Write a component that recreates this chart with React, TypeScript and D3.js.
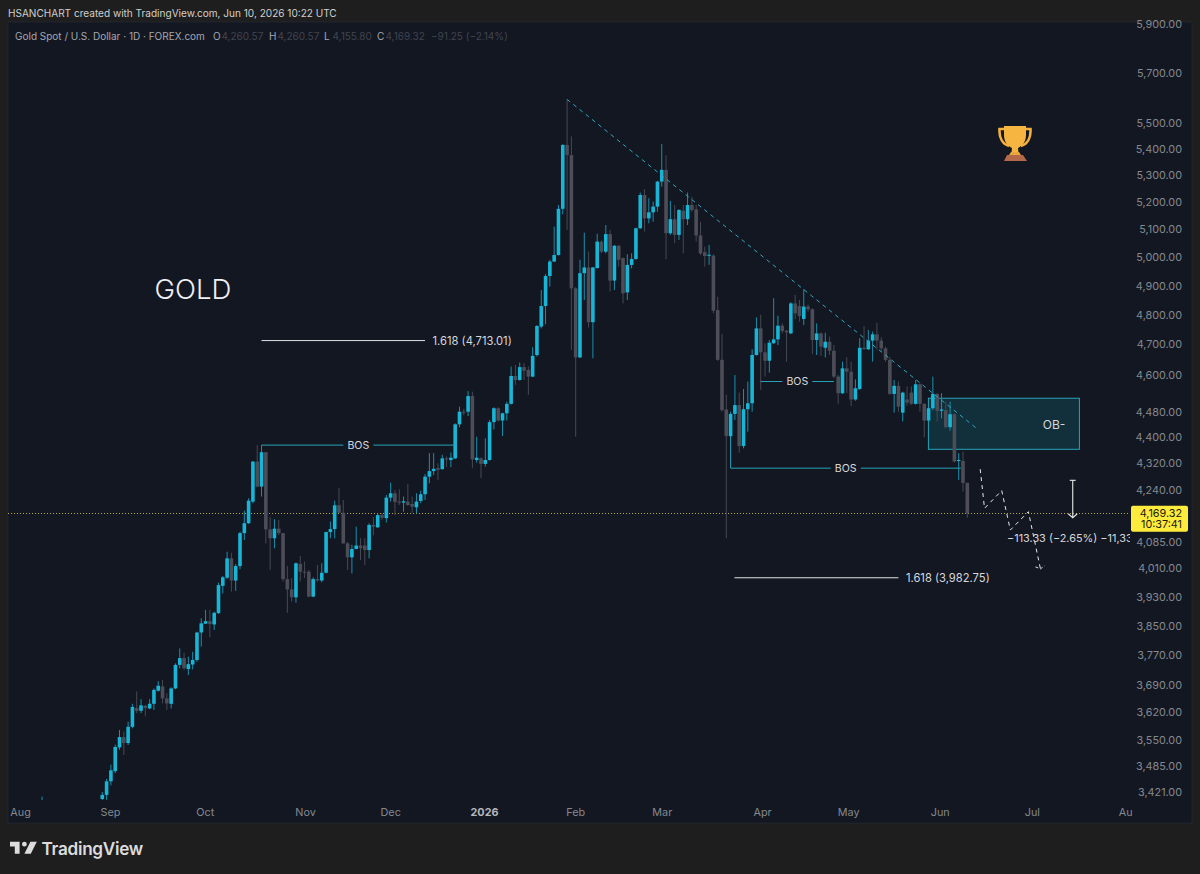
import * as d3 from "d3";
import React, { useEffect, useRef } from "react";

// daily bars, Sep 2025 - Jun 10 2026
const opens = [
  3404,3414,3447,3472,3531,3557,3542,3583,3631,3624,
  3637,3630,3642,3676,3687,3656,3642,3682,3744,3762,
  3733,3745,3757,3831,3855,3862,3853,3884,3960,3983,
  4038,3975,4016,4111,4140,4204,4325,4249,4354,4122,
  4096,4124,4111,3979,3950,3928,4022,4000,4000,3930,
  3979,3975,3997,4114,4123,4193,4171,4081,4041,4065,
  4075,4075,4062,4135,4128,4164,4155,4216,4229,4204,
  4201,4204,4197,4187,4206,4226,4279,4296,4305,4302,
  4335,4330,4335,4441,4481,4481,4531,4330,4335,4318,
  4330,4448,4492,4453,4476,4506,4596,4583,4625,4616,
  4594,4665,4760,4830,4934,4985,5008,5175,5415,5376,
  4891,4657,4944,4964,4775,4962,5056,5020,5083,4918,
  5041,4997,4877,4973,4994,5104,5226,5140,5162,5183,
  5276,5320,5086,5137,5080,5168,5137,5189,5173,5078,
  5018,5006,5006,4816,4649,4488,4404,4474,4502,4373,
  4489,4508,4665,4754,4674,4646,4704,4717,4763,4746,
  4737,4839,4830,4786,4828,4819,4715,4737,4689,4709,
  4679,4594,4540,4621,4610,4520,4554,4689,4684,4713,
  4734,4713,4687,4649,4538,4564,4478,4520,4542,4506,
  4569,4506,4453,4492,4538,4484,4486,4432,4473,4327,
  4327,4260.57,
];
const highs = [
  3421,3453,3488,3538,3575,3571,3596,3642,3674,3654,
  3639,3654,3682,3701,3704,3669,3685,3748,3788,3777,
  3766,3779,3833,3870,3893,3893,3888,3969,3988,4057,
  4054,4022,4115,4177,4214,4327,4376,4376,4354,4158,
  4152,4150,4111,4016,3982,4026,4045,4029,4005,3984,
  4019,4024,4115,4145,4207,4244,4209,4085,4077,4130,
  4096,4096,4140,4158,4169,4170,4224,4261,4239,4241,
  4219,4257,4219,4229,4237,4287,4351,4351,4320,4346,
  4341,4353,4444,4497,4490,4547,4545,4402,4338,4397,
  4455,4495,4495,4478,4513,4627,4632,4640,4638,4627,
  4691,4765,4885,4941,4991,5110,5189,5418,5593,5448,
  4895,4991,5088,5020,4966,5084,5060,5116,5098,5044,
  5044,5000,5011,5014,5106,5235,5248,5214,5202,5279,
  5418,5376,5204,5189,5173,5189,5235,5220,5189,5128,
  5038,5044,5010,4862,4735,4535,4481,4599,4542,4554,
  4578,4684,4791,4800,4704,4715,4857,4797,4771,4748,
  4843,4868,4851,4888,4835,4822,4771,4740,4739,4726,
  4698,4599,4643,4657,4643,4585,4721,4762,4749,4743,
  4773,4724,4693,4659,4583,4578,4545,4562,4562,4583,
  4572,4508,4497,4594,4540,4540,4513,4513,4475,4351,
  4356,4260.57,
];
const lows = [
  3402,3402,3437,3467,3525,3512,3537,3579,3618,3618,
  3610,3628,3626,3674,3643,3626,3630,3680,3735,3731,
  3717,3732,3752,3793,3854,3818,3838,3882,3939,3979,
  3944,3946,4007,4091,4138,4199,4247,4219,4081,4005,
  4067,4105,3972,3885,3916,3913,3972,3982,3928,3928,
  3972,3970,3995,4096,4096,4171,4081,4005,3995,4064,
  4033,4019,4038,4105,4126,4150,4142,4204,4164,4194,
  4174,4191,4171,4169,4199,4209,4259,4284,4269,4300,
  4308,4308,4333,4432,4470,4467,4305,4322,4274,4310,
  4328,4425,4450,4404,4453,4504,4567,4581,4583,4535,
  4592,4660,4754,4768,4897,4983,5006,5155,5098,4682,
  4402,4655,4851,4757,4654,4960,5014,5014,4880,4885,
  4967,4839,4851,4961,4991,5102,5092,5122,5128,5164,
  5257,4993,5080,5050,5062,5014,5116,5164,5056,5008,
  4967,4973,4805,4646,4481,4096,4398,4455,4353,4366,
  4418,4481,4663,4551,4594,4607,4702,4698,4737,4643,
  4735,4785,4777,4765,4810,4668,4665,4662,4657,4665,
  4589,4506,4538,4540,4499,4516,4551,4682,4682,4643,
  4682,4676,4643,4535,4478,4481,4450,4500,4503,4504,
  4481,4400,4450,4486,4450,4460,4429,4421,4323,4269,
  4234,4155.8,
];
const closes = [
  3414,3447,3474,3532,3557,3542,3583,3634,3624,3638,
  3631,3642,3678,3689,3656,3643,3682,3744,3762,3735,
  3746,3757,3831,3856,3862,3854,3885,3962,3984,4038,
  3975,4016,4111,4140,4207,4325,4249,4354,4122,4096,
  4124,4111,3979,3950,3928,4024,4000,3997,3930,3979,
  3975,3997,4114,4123,4193,4171,4081,4041,4065,4075,
  4067,4062,4135,4130,4164,4156,4216,4229,4203,4201,
  4205,4194,4189,4204,4226,4279,4296,4303,4300,4335,
  4332,4337,4441,4481,4478,4531,4332,4337,4318,4330,
  4448,4492,4453,4476,4506,4596,4583,4625,4613,4594,
  4662,4762,4830,4934,4985,5008,5175,5415,5376,4891,
  4657,4944,4964,4775,4964,5056,5020,5083,4918,5041,
  4991,4874,4973,4994,5104,5226,5140,5162,5183,5276,
  5320,5086,5137,5080,5171,5137,5189,5171,5078,5014,
  5004,5009,4814,4649,4486,4404,4474,4502,4373,4489,
  4508,4665,4754,4674,4646,4706,4717,4763,4745,4741,
  4839,4805,4796,4828,4819,4715,4737,4693,4709,4679,
  4594,4540,4621,4610,4520,4556,4689,4685,4713,4734,
  4713,4687,4649,4538,4564,4497,4542,4510,4506,4569,
  4506,4453,4492,4538,4484,4488,4432,4473,4325,4330,
  4260,4169.32,
];

const priceTicks = [
  5900,5700,5500,5400,5300,5200,5100,5000,4900,4800,4700,4600,4480,4400,4320,4240,
  4085,4010,3930,3850,3770,3690,3620,3550,3485,3421,
];
const monthLabels = ["Aug","Sep","Oct","Nov","Dec","2026","Feb","Mar","Apr","May","Jun","Jul","Aug"];
const monthBars = [-18.1,2.8,24.8,48.1,67.9,89.7,110.9,131,154.3,174.3,195.6,217,238.7];

// drawings, bar index + price
const lastClose = 4169.32;
const trendBars = [109, 204];
const trendPrices = [5593, 4430];
const bosBars = [[38, 83], [154, 171], [147, 200.5]];
const bosPrices = [4376, 4578, 4305];
const fibBars = [[38, 76], [147.9, 186]];
const fibPrices = [4713.01, 3982.75];
const fibLabels = ["1.618 (4,713.01)", "1.618 (3,982.75)"];
const obBars = [192.96, 228.05];
const obPrices = [4524, 4363];
const pathBars = [205, 206, 210, 212, 216.2, 219];
const pathPrices = [4302, 4184, 4237, 4120, 4174, 4008];
const measureBar = 226.5;
const measurePrices = [4268, 4156];

const UP = "#17b5d6";
const UP_WICK = "#1790ad";
const DOWN = "#4d4d58";
const DOWN_WICK = "#484852";
const PANE = "#131722";
const TEAL = "#27a3b8";
const FONT = "Inter, 'Noto Sans', sans-serif";

export default function App() {
  const svgRef = useRef<SVGSVGElement>(null);

  useEffect(() => {
    const svg = d3.select(svgRef.current);
    svg.selectAll("*").remove();

    const x = d3.scaleLinear().domain([1, 202]).range([102.3, 967.3]);
    const y = d3.scaleLog().domain([3421, 5500]).range([792, 123]);

    svg.append("rect").attr("width", 1200).attr("height", 874).attr("fill", "#1e1e1e");
    svg.append("rect").attr("x", 8).attr("y", 22).attr("width", 1184).attr("height", 801)
      .attr("fill", PANE).attr("stroke", "#2a2e39").attr("stroke-width", 0.6);

    svg.append("text").attr("x", 8).attr("y", 17).attr("font-size", 10.05).attr("fill", "#cfcfcf")
      .attr("font-family", FONT).text("HSANCHART created with TradingView.com, Jun 10, 2026 10:22 UTC");

    const defs = svg.append("defs");
    defs.append("clipPath").attr("id", "plot").append("rect")
      .attr("x", 8).attr("y", 23).attr("width", 1122).attr("height", 777);

    // price axis
    const yAxis = d3.axisRight(y).tickValues(priceTicks).tickSize(0).tickFormat((d: any) => d3.format(",.2f")(d));
    const yg = svg.append("g").attr("transform", "translate(1182,0)").call(yAxis as any);
    yg.select(".domain").remove();
    yg.selectAll("text").attr("x", 0).attr("text-anchor", "end").attr("fill", "#85898f")
      .attr("font-size", 10.8).attr("font-family", FONT);

    // time axis
    const xAxis = d3.axisBottom(x).tickValues(monthBars).tickSize(0).tickFormat((_d: any, i: number) => monthLabels[i]);
    const xg = svg.append("g").attr("transform", "translate(0,804)").call(xAxis as any);
    xg.select(".domain").remove();
    xg.selectAll("text").attr("y", 4).attr("fill", "#85898f").attr("font-size", 10.8).attr("font-family", FONT)
      .attr("font-weight", (_d: any, i: number) => (monthLabels[i] === "2026" ? 700 : 400))
      .style("fill", (_d: any, i: number) => (monthLabels[i] === "2026" ? "#b4b7be" : "#85898f"));
    // last label is cut off by the price scale in the screenshot
    xg.selectAll("g.tick").filter((_d: any, i: number) => i === monthLabels.length - 1).select("text").text("Au");

    const plot = svg.append("g").attr("clip-path", "url(#plot)");

    // order block sits behind the candles
    plot.append("rect")
      .attr("x", x(obBars[0])).attr("y", y(obPrices[0]))
      .attr("width", x(obBars[1]) - x(obBars[0])).attr("height", y(obPrices[1]) - y(obPrices[0]))
      .attr("fill", "#12303c").attr("stroke", TEAL).attr("stroke-width", 1);

    // last price line
    plot.append("line").attr("x1", 8).attr("x2", 1130).attr("y1", Math.round(y(lastClose)) + 0.5).attr("y2", Math.round(y(lastClose)) + 0.5)
      .attr("stroke", "#bda63a").attr("stroke-width", 1).attr("stroke-dasharray", "1 2");

    const idx = d3.range(opens.length);
    const isUp = (i: number) => closes[i] >= opens[i];

    plot.append("g").selectAll("line").data(idx).join("line")
      .attr("x1", (i) => x(i + 1)).attr("x2", (i) => x(i + 1))
      .attr("y1", (i) => y(highs[i])).attr("y2", (i) => y(lows[i]))
      .attr("stroke", (i) => (isUp(i) ? UP_WICK : DOWN_WICK)).attr("stroke-width", 1);

    plot.append("g").selectAll("rect").data(idx).join("rect")
      .attr("x", (i) => x(i + 1) - 1.8).attr("width", 3.6)
      .attr("y", (i) => y(Math.max(opens[i], closes[i])))
      .attr("height", (i) => Math.max(1, Math.abs(y(opens[i]) - y(closes[i]))))
      .attr("fill", (i) => (isUp(i) ? UP : DOWN));

    // small wick poking into the view far left
    plot.append("line").attr("x1", x(-13)).attr("x2", x(-13)).attr("y1", y(3410)).attr("y2", y(3380))
      .attr("stroke", UP_WICK).attr("stroke-width", 1);

    // trend line
    plot.append("line")
      .attr("x1", x(trendBars[0])).attr("y1", y(trendPrices[0]))
      .attr("x2", x(trendBars[1])).attr("y2", y(trendPrices[1]))
      .attr("stroke", "#2fa8bf").attr("stroke-width", 1).attr("stroke-dasharray", "4 4");

    // BOS lines with their labels
    bosBars.forEach((b, i) => {
      const yy = y(bosPrices[i]);
      const mid = (x(b[0]) + x(b[1])) / 2;
      plot.append("line").attr("x1", x(b[0])).attr("x2", x(b[1])).attr("y1", yy).attr("y2", yy)
        .attr("stroke", TEAL).attr("stroke-width", 1);
      plot.append("rect").attr("x", mid - 15).attr("y", yy - 7).attr("width", 30).attr("height", 14).attr("fill", PANE);
      plot.append("text").attr("x", mid).attr("y", yy + 3.8).attr("text-anchor", "middle")
        .attr("font-size", 10.6).attr("fill", "#d6d8dc").attr("font-family", FONT).text("BOS");
    });
    // the lower BOS hangs from its anchor candle
    plot.append("line").attr("x1", x(147)).attr("x2", x(147)).attr("y1", y(4404)).attr("y2", y(bosPrices[2]))
      .attr("stroke", TEAL).attr("stroke-width", 1);

    // fib levels
    fibBars.forEach((b, i) => {
      const yy = y(fibPrices[i]);
      plot.append("line").attr("x1", x(b[0])).attr("x2", x(b[1])).attr("y1", yy).attr("y2", yy)
        .attr("stroke", "#e2e3e6").attr("stroke-width", 1);
      plot.append("text").attr("x", x(b[1]) + 7.5).attr("y", yy + 4).attr("font-size", 11.2)
        .attr("fill", "#d6d8dc").attr("font-family", FONT).text(fibLabels[i]);
    });

    plot.append("text").attr("x", 1054).attr("y", y(4440) + 4.5).attr("text-anchor", "middle")
      .attr("font-size", 12).attr("fill", "#d6d8dc").attr("font-family", FONT).text("OB-");

    // projected path
    const pathLine = d3.line<number>().x((b) => x(b)).y((_b, i) => y(pathPrices[i]));
    plot.append("path").attr("d", pathLine(pathBars)).attr("fill", "none").attr("stroke", "#e8e8ea")
      .attr("stroke-width", 1).attr("stroke-dasharray", "4 4");
    const pathEnd = pathBars.length - 1;
    const endX = x(pathBars[pathEnd]);
    const endY = y(pathPrices[pathEnd]);
    plot.append("path").attr("d", d3.line()([[endX - 5, endY - 2], [endX, endY], [endX + 4, endY - 3]]))
      .attr("fill", "none").attr("stroke", "#e8e8ea").attr("stroke-width", 1).attr("stroke-dasharray", "3 2");

    // measure tool
    const mx = x(measureBar);
    const my0 = y(measurePrices[0]);
    const my1 = y(measurePrices[1]);
    plot.append("path").attr("d", d3.line()([[mx, my0], [mx, my1]])).attr("stroke", "#e8e8ea").attr("stroke-width", 1.1);
    plot.append("path").attr("d", d3.line()([[mx - 3, my0], [mx + 3, my0]])).attr("stroke", "#e8e8ea").attr("stroke-width", 1.1);
    plot.append("path").attr("d", d3.line()([[mx - 4.5, my1 - 4], [mx, my1], [mx + 4.5, my1 - 4]]))
      .attr("fill", "none").attr("stroke", "#e8e8ea").attr("stroke-width", 1.1);
    plot.append("text").attr("x", 1007).attr("y", 541.5).attr("font-size", 10.9).attr("fill", "#d6d8dc")
      .attr("font-family", FONT).text("−113.33 (−2.65%) −11,333");

    // big title
    svg.append("text").attr("x", 154.5).attr("y", 299).attr("font-size", 27.6).attr("fill", "#f0f0f2")
      .attr("font-weight", 300).attr("font-family", FONT).text("GOLD");

    // legend row
    const legend = svg.append("g").attr("font-family", FONT).attr("font-size", 10);
    legend.append("text").attr("x", 15).attr("y", 40).attr("fill", "#a4a7af").text("Gold Spot / U.S. Dollar · 1D · FOREX.com");
    const ohlcKeys = ["O", "H", "L", "C"];
    const ohlcVals = [opens[201], highs[201], lows[201], closes[201]];
    const ohlcX = [213, 269, 324, 377];
    ohlcKeys.forEach((k, i) => {
      legend.append("text").attr("x", ohlcX[i]).attr("y", 40).attr("fill", "#a4a7af").text(k);
      legend.append("text").attr("x", ohlcX[i] + 8.5).attr("y", 40).attr("fill", "#41444e").text(d3.format(",.2f")(ohlcVals[i]));
    });
    legend.append("text").attr("x", 431).attr("y", 40).attr("fill", "#41444e").text("−91.25 (−2.14%)");

    // current price tag
    const tag = svg.append("g").attr("font-family", FONT).attr("font-size", 10.8).attr("fill", "#1a1a10");
    tag.append("rect").attr("x", 1131).attr("y", y(lastClose) - 7.5).attr("width", 57).attr("height", 26).attr("rx", 2).attr("fill", "#ffeb3b");
    tag.append("text").attr("x", 1182).attr("y", y(lastClose) + 3.5).attr("text-anchor", "end").text(d3.format(",.2f")(lastClose));
    tag.append("text").attr("x", 1182).attr("y", y(lastClose) + 15).attr("text-anchor", "end").text("10:37:41");

    // trophy
    const cup = svg.append("g").attr("transform", "translate(985,115)");
    cup.append("path").attr("fill", "none").attr("stroke", "#f3b13c").attr("stroke-width", 2.6)
      .attr("d", "M20 14H14.5C14 22 17 29 24 31M40 14H45.5C46 22 43 29 36 31");
    cup.append("path").attr("fill", "#f5b540").attr("d", "M19 11H41V20C41 27 37 31 33 33L33.5 38H26.5L27 33C23 31 19 27 19 20Z");
    cup.append("path").attr("fill", "#e9a63a").attr("d", "M26 37H34L36 40H24Z");
    cup.append("path").attr("fill", "#b3694a").attr("d", "M22 40H38L42 46H19Z");

    // footer logo
    const logo = svg.append("g").attr("transform", "translate(8.4,837) scale(0.8)").attr("fill", "#dcdcdc");
    logo.append("path").attr("d", "M14 6H2v6h6v9h6V6zm14 15h-8l7.5-15h8L28 21zm-8-9a3 3 0 1 0 0-6 3 3 0 0 0 0 6z");
    svg.append("text").attr("x", 41.5).attr("y", 855).attr("font-size", 17.2).attr("font-weight", 600)
      .attr("fill", "#dcdcdc").attr("font-family", FONT).attr("letter-spacing", -0.3).text("TradingView");
  }, []);

  return <svg ref={svgRef} width={1200} height={874} style={{ position: "absolute", left: 0, top: 0 }}></svg>;
}
